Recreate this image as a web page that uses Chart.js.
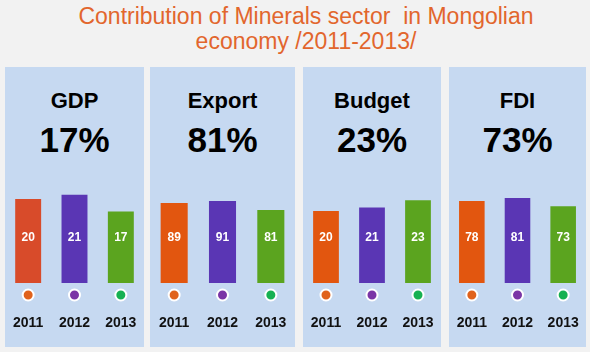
<!DOCTYPE html>
<html lang="en">
<head>
<meta charset="UTF-8">
<title>Contribution of Minerals sector in Mongolian economy</title>
<script src="https://cdn.jsdelivr.net/npm/chart.js"></script>
<style>
  body { margin: 0; width: 590px; height: 352px; background: #f2f2f2; font-family: "Liberation Sans", Arial, sans-serif; position: relative; overflow: hidden; }
  .title { position: absolute; left: 11px; top: 4px; width: 590px; text-align: center; color: #e2662d; font-size: 23px; line-height: 25px; }
  .panel { position: absolute; top: 67px; height: 280px; background: #c6d9f1; }
  .panel .name { position: absolute; top: 21px; width: 100%; text-align: center; font-weight: bold; font-size: 22px; line-height: 26px; }
  .panel .pct { position: absolute; top: 53px; width: 100%; text-align: center; font-weight: bold; font-size: 35px; line-height: 40px; }
  .panel canvas { position: absolute; left: 0; top: 90px; }
</style>
</head>
<body>
<div class="title">Contribution of Minerals sector&nbsp; in Mongolian<br>economy /2011-2013/</div>

<script>
const years = ['2011', '2012', '2013'];
const sectors = ['GDP', 'Export', 'Budget', 'FDI'];
const shares = ['17%', '81%', '23%', '73%'];
const gdpValues = [20, 21, 17];
const exportValues = [89, 91, 81];
const budgetValues = [20, 21, 23];
const fdiValues = [78, 81, 73];

const seriesValues = [gdpValues, exportValues, budgetValues, fdiValues];
const panelX = [[5, 144], [150, 295], [303, 441], [449, 586]];
const barColors = ['#e2560f', '#5a36b4', '#5ba41f'];
const dotColors = ['#e0621c', '#7a35a6', '#16b152'];

// value labels and year dots
const decorPlugin = {
  id: 'decor',
  afterDatasetsDraw(chart) {
    const c = chart.ctx;
    const area = chart.chartArea;
    const meta = chart.getDatasetMeta(0);
    meta.data.forEach((bar, i) => {
      c.save();
      c.fillStyle = '#ffffff';
      c.font = 'bold 12px "Liberation Sans", Arial, sans-serif';
      c.textAlign = 'center';
      c.textBaseline = 'middle';
      c.fillText(chart.data.datasets[0].data[i], bar.x, area.bottom - 45);
      c.beginPath();
      c.arc(bar.x, area.bottom + 12, 5.5, 0, Math.PI * 2);
      c.fillStyle = dotColors[i];
      c.fill();
      c.lineWidth = 2;
      c.strokeStyle = '#ffffff';
      c.stroke();
      c.restore();
    });
  }
};

sectors.forEach((name, p) => {
  const w = panelX[p][1] - panelX[p][0];
  const panel = document.createElement('div');
  panel.className = 'panel';
  panel.style.left = panelX[p][0] + 'px';
  panel.style.width = w + 'px';
  panel.innerHTML = '<div class="name">' + name + '</div><div class="pct">' + shares[p] + '</div>';
  const canvas = document.createElement('canvas');
  canvas.width = w;
  canvas.height = 185;
  panel.appendChild(canvas);
  document.body.appendChild(panel);

  const cols = barColors.slice();
  if (p === 0) cols[0] = '#d84b2a';

  new Chart(canvas, {
    type: 'bar',
    data: {
      labels: years,
      datasets: [{
        data: seriesValues[p],
        backgroundColor: cols,
        barPercentage: 0.56,
        categoryPercentage: 1
      }]
    },
    options: {
      responsive: false,
      animation: false,
      layout: { padding: { top: 0, bottom: 7, left: 0, right: 0 } },
      plugins: { legend: { display: false }, tooltip: { enabled: false } },
      scales: {
        x: {
          grid: { display: false, drawTicks: false },
          border: { display: false },
          ticks: { color: '#111', padding: 32, maxRotation: 0, autoSkip: false, font: { family: '"Liberation Sans", Arial, sans-serif', size: 14, weight: 'bold' } },
          // tick padding also pads the sides; keep the full panel width
          afterFit(scale) { scale.paddingLeft = 0; scale.paddingRight = 0; scale.height = 52; }
        },
        y: {
          display: false,
          min: 0,
          afterDataLimits(scale) { scale.max = scale.max * 1.38; }
        }
      }
    },
    plugins: [decorPlugin]
  });
});
</script>
</body>
</html>
